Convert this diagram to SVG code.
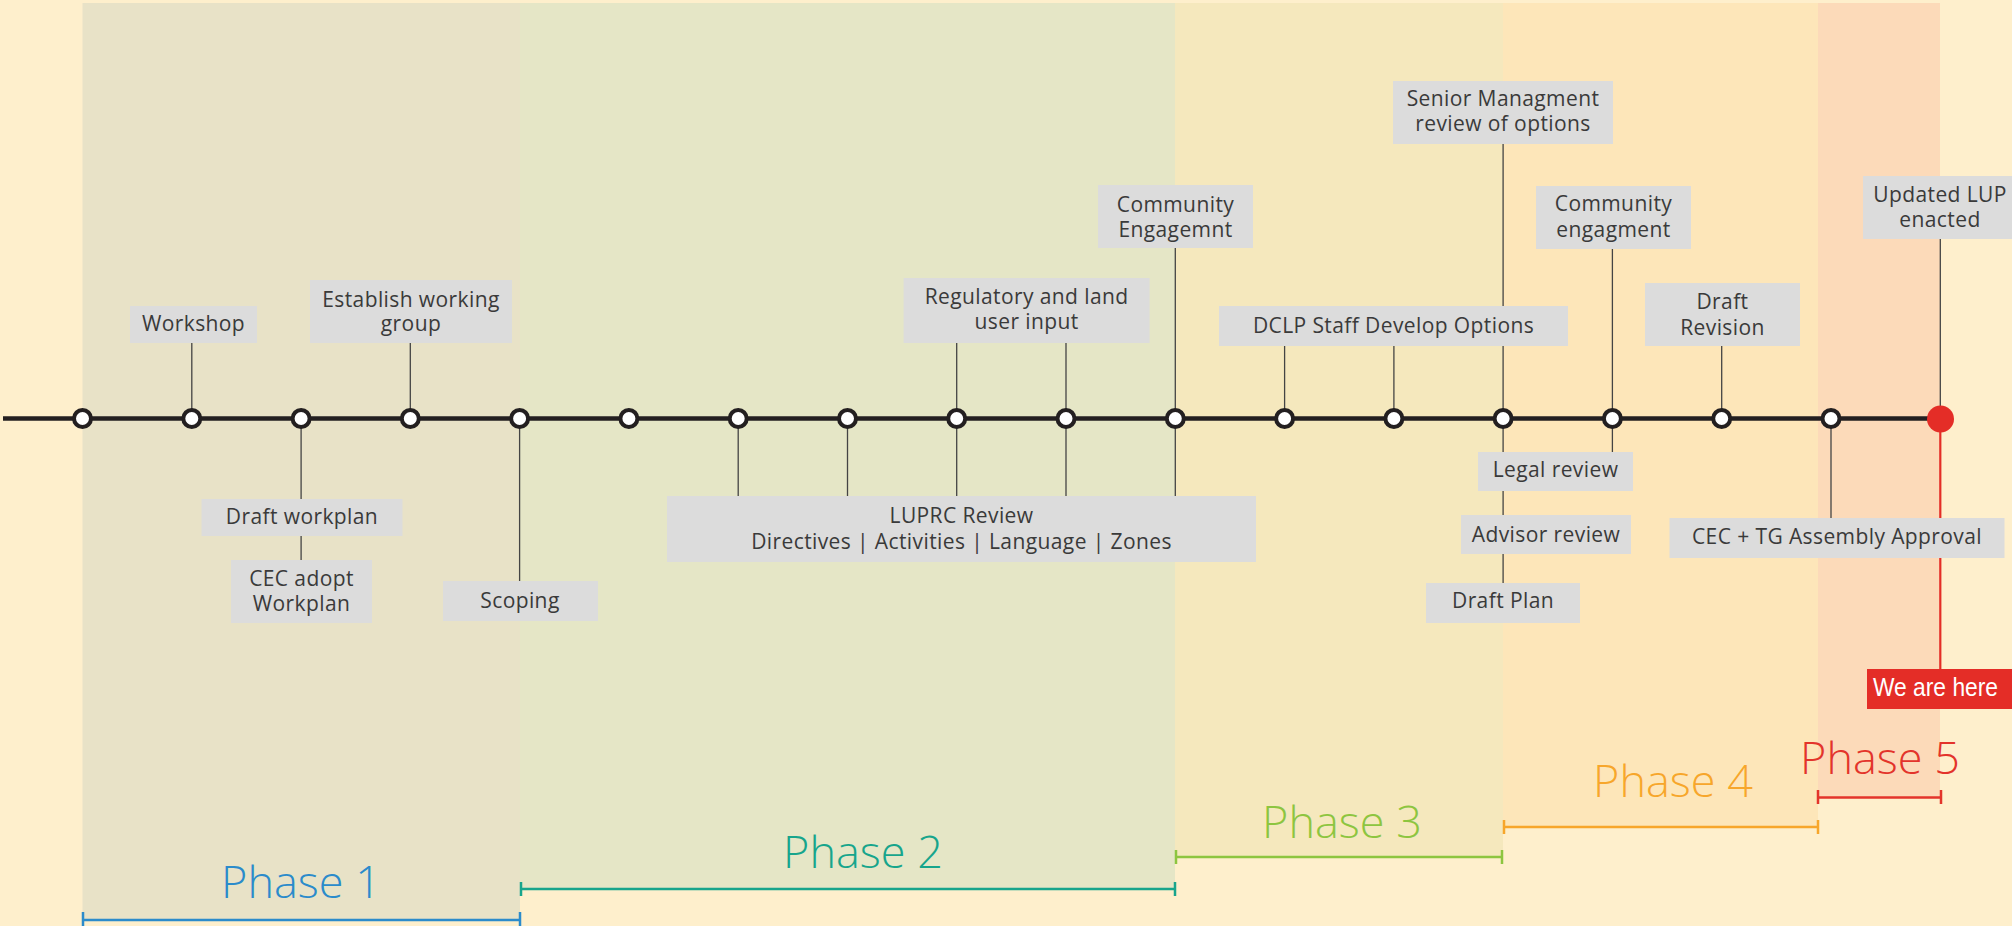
<svg xmlns="http://www.w3.org/2000/svg" width="2012" height="926" viewBox="0 0 2012 926">
<style>
.box{fill:#dcdcdc}
.t{font-family:"Open Sans","Liberation Sans",sans-serif;font-size:21px;fill:#3a3a3a;text-anchor:middle;letter-spacing:0.4px}
.c{stroke:#444;stroke-width:1.3;fill:none}
.node{fill:#fff;stroke:#231f20;stroke-width:4}
.ph{font-family:"Open Sans","Liberation Sans",sans-serif;font-size:45px;font-weight:300;text-anchor:middle}
</style>
<rect x="0" y="0" width="2012" height="926" fill="#feefcc"/>
<g id="bands">
<rect x="82.5" y="3" width="437.5" height="916" fill="#e8e2c7"/>
<rect x="520" y="3" width="655" height="887" fill="#e5e6c6"/>
<rect x="1175" y="3" width="328" height="854" fill="#f5e8bd"/>
<rect x="1503" y="3" width="315" height="824" fill="#fde6b9"/>
<rect x="1818" y="3" width="122" height="794" fill="#fcdab9"/>
</g>
<g id="connectors">
<line class="c" x1="191.8" y1="343" x2="191.8" y2="418"/>
<line class="c" x1="410.3" y1="343" x2="410.3" y2="418"/>
<line class="c" x1="301.1" y1="418" x2="301.1" y2="560"/>
<line class="c" x1="519.6" y1="418" x2="519.6" y2="581"/>
<line class="c" x1="738.2" y1="418" x2="738.2" y2="496"/>
<line class="c" x1="847.5" y1="418" x2="847.5" y2="496"/>
<line class="c" x1="956.7" y1="343" x2="956.7" y2="496"/>
<line class="c" x1="1066" y1="343" x2="1066" y2="496"/>
<line class="c" x1="1175.3" y1="248" x2="1175.3" y2="496"/>
<line class="c" x1="1284.6" y1="346" x2="1284.6" y2="418"/>
<line class="c" x1="1393.9" y1="346" x2="1393.9" y2="418"/>
<line class="c" x1="1503.1" y1="144" x2="1503.1" y2="583"/>
<line class="c" x1="1612.4" y1="249" x2="1612.4" y2="452"/>
<line class="c" x1="1721.7" y1="346" x2="1721.7" y2="418"/>
<line class="c" x1="1831" y1="418" x2="1831" y2="518"/>
<line class="c" x1="1940.3" y1="239" x2="1940.3" y2="418"/>
<line x1="1940.3" y1="418" x2="1940.3" y2="669" stroke="#e42d27" stroke-width="2.2"/>
</g>
<g id="brackets" stroke-width="2.5" fill="none">
<path d="M83 920H520M83 912V926M520 912V926" stroke="#2b8bcb"/>
<path d="M521 889H1175M521 882V896M1175 882V896" stroke="#17a58c"/>
<path d="M1176 857H1502M1176 850V864M1502 850V864" stroke="#8dc540"/>
<path d="M1504 827H1818M1504 820V834M1818 820V834" stroke="#f7a62b"/>
<path d="M1818 797.5H1941M1818 790V804M1941 790V804" stroke="#e3342b"/>
</g>
<g id="phase-labels">
<text class="ph" x="301" y="898" fill="#2b8bcb">Phase 1</text>
<text class="ph" x="863" y="868" fill="#17a58c">Phase 2</text>
<text class="ph" x="1342" y="838" fill="#8dc540">Phase 3</text>
<text class="ph" x="1673" y="797" fill="#f7a62b">Phase 4</text>
<text class="ph" x="1880" y="774" fill="#e3342b">Phase 5</text>
</g>
<g id="timeline">
<line x1="3" y1="418.5" x2="1940" y2="418.5" stroke="#231f20" stroke-width="4.5"/>
</g>
<g id="nodes">
<circle class="node" cx="82.5" cy="418.5" r="8.5"/>
<circle class="node" cx="191.8" cy="418.5" r="8.5"/>
<circle class="node" cx="301.1" cy="418.5" r="8.5"/>
<circle class="node" cx="410.3" cy="418.5" r="8.5"/>
<circle class="node" cx="519.6" cy="418.5" r="8.5"/>
<circle class="node" cx="628.9" cy="418.5" r="8.5"/>
<circle class="node" cx="738.2" cy="418.5" r="8.5"/>
<circle class="node" cx="847.5" cy="418.5" r="8.5"/>
<circle class="node" cx="956.7" cy="418.5" r="8.5"/>
<circle class="node" cx="1066" cy="418.5" r="8.5"/>
<circle class="node" cx="1175.3" cy="418.5" r="8.5"/>
<circle class="node" cx="1284.6" cy="418.5" r="8.5"/>
<circle class="node" cx="1393.9" cy="418.5" r="8.5"/>
<circle class="node" cx="1503.1" cy="418.5" r="8.5"/>
<circle class="node" cx="1612.4" cy="418.5" r="8.5"/>
<circle class="node" cx="1721.7" cy="418.5" r="8.5"/>
<circle class="node" cx="1831" cy="418.5" r="8.5"/>
<circle cx="1940.5" cy="419" r="13.5" fill="#e42d27"/>
</g>
<g id="workshop"><rect class="box" x="130" y="306" width="127" height="37"/><text class="t" x="193.5" y="331">Workshop</text></g>
<g id="establish"><rect class="box" x="310" y="280" width="202" height="63"/><text class="t" x="411" y="306.5">Establish working</text><text class="t" x="411" y="331">group</text></g>
<g id="draft-workplan"><rect class="box" x="201.5" y="499" width="201" height="37"/><text class="t" x="302" y="524">Draft workplan</text></g>
<g id="cec-adopt"><rect class="box" x="231" y="560" width="141" height="63"/><text class="t" x="301.5" y="586">CEC adopt</text><text class="t" x="301.5" y="611">Workplan</text></g>
<g id="scoping"><rect class="box" x="443" y="581" width="155" height="40"/><text class="t" x="520" y="608">Scoping</text></g>
<g id="regulatory"><rect class="box" x="903.6" y="278" width="246" height="65"/><text class="t" x="1026.6" y="304">Regulatory and land</text><text class="t" x="1026.6" y="329">user input</text></g>
<g id="community-1"><rect class="box" x="1098" y="185" width="155" height="63"/><text class="t" x="1175.5" y="212">Community</text><text class="t" x="1175.5" y="237">Engagemnt</text></g>
<g id="luprc"><rect class="box" x="667" y="496" width="589" height="66"/><text class="t" x="961.5" y="523">LUPRC Review</text><text class="t" x="961.5" y="549">Directives | Activities | Language | Zones</text></g>
<g id="dclp"><rect class="box" x="1219" y="306" width="349" height="40"/><text class="t" x="1393.5" y="333">DCLP Staff Develop Options</text></g>
<g id="senior"><rect class="box" x="1393" y="81" width="220" height="63"/><text class="t" x="1503" y="106">Senior Managment</text><text class="t" x="1503" y="131">review of options</text></g>
<g id="community-2"><rect class="box" x="1536" y="186" width="155" height="63"/><text class="t" x="1613.5" y="211">Community</text><text class="t" x="1613.5" y="237">engagment</text></g>
<g id="draft-revision"><rect class="box" x="1645" y="283" width="155" height="63"/><text class="t" x="1722.5" y="309">Draft</text><text class="t" x="1722.5" y="335">Revision</text></g>
<g id="updated-lup"><rect class="box" x="1863" y="176" width="160" height="63"/><text class="t" x="1940" y="202">Updated LUP</text><text class="t" x="1940" y="227">enacted</text></g>
<g id="legal"><rect class="box" x="1478" y="452" width="155" height="39"/><text class="t" x="1555.5" y="477">Legal review</text></g>
<g id="advisor"><rect class="box" x="1461" y="515" width="170" height="39"/><text class="t" x="1546" y="542">Advisor review</text></g>
<g id="draft-plan"><rect class="box" x="1426" y="583" width="154" height="40"/><text class="t" x="1503" y="608">Draft Plan</text></g>
<g id="cec-tg"><rect class="box" x="1669.5" y="518" width="335" height="40"/><text class="t" x="1837" y="544">CEC + TG Assembly Approval</text></g>
<g id="we-are-here"><rect x="1867" y="669" width="145" height="40" fill="#e42d27"/><text x="1935.5" y="696" font-family="Liberation Sans,Arial,sans-serif" font-size="25" fill="#fff" text-anchor="middle" textLength="125" lengthAdjust="spacingAndGlyphs">We are here</text></g>
</svg>
